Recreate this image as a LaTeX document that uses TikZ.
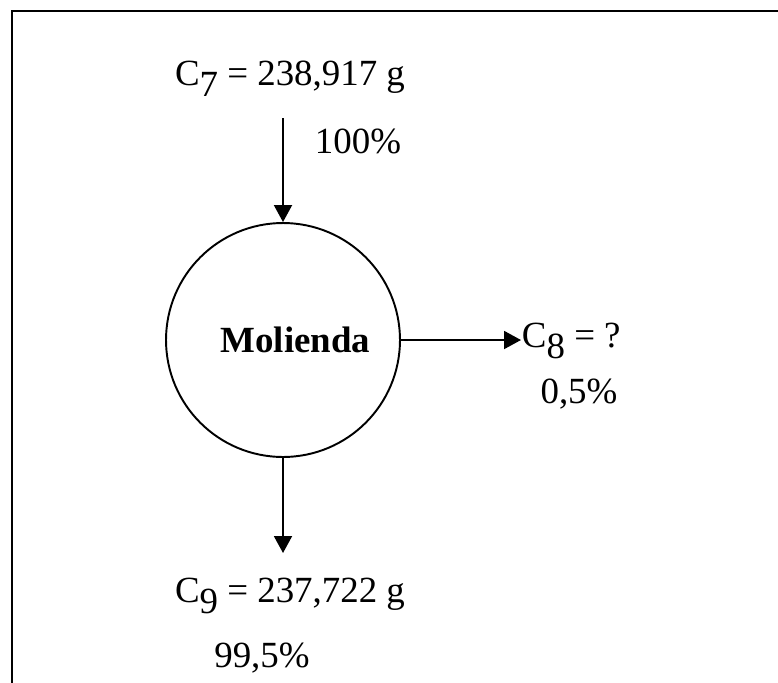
\documentclass[tikz,border=0pt]{standalone}
\usepackage{fontspec}
\setmainfont{Liberation Serif}
\usetikzlibrary{arrows.meta}
\newcommand{\lowsub}[1]{\raisebox{-0.3em}{#1}}

\begin{document}
\begin{tikzpicture}[x=0.02cm, y=-0.02cm, line width=1.1pt,
		flow/.style={-{Triangle[length=0.34cm,width=0.36cm]}},
		lbl/.style={font=\fontsize{21}{25}\selectfont, inner sep=0pt, anchor=base}]
		\useasboundingbox (0,0) rectangle (778,683);
		\draw (778,11) -- (12,11) -- (12,683);

		\node[draw, circle, minimum size=4.68cm, inner sep=0pt,
			font=\fontsize{21}{25}\selectfont\bfseries] (mol) at (283,340) {\hspace{14pt}Molienda};

		% entrada
		\node[lbl] (c7) at (290,85) {C\lowsub{7} = 238,917 g};
		\node[lbl] (p7) at (358,153) {100\%};
		\coordinate (in7) at (283,118);
		\draw[flow] (in7) -- (mol.north);

		% salida lateral
		\node[lbl, anchor=base west] (c8) at (521,347) {C\lowsub{8} = ?};
		\node[lbl] (p8) at (579,403) {0,5\%};
		\draw[flow] (mol.east) -- (mol.east -| c8.west);

		% salida inferior
		\coordinate (out9) at (283,553);
		\draw[flow] (mol.south) -- (out9);
		\node[lbl] (c9) at (290,602) {C\lowsub{9} = 237,722 g};
		\node[lbl] (p9) at (262,667) {99,5\%};
	\end{tikzpicture}
\end{document}
